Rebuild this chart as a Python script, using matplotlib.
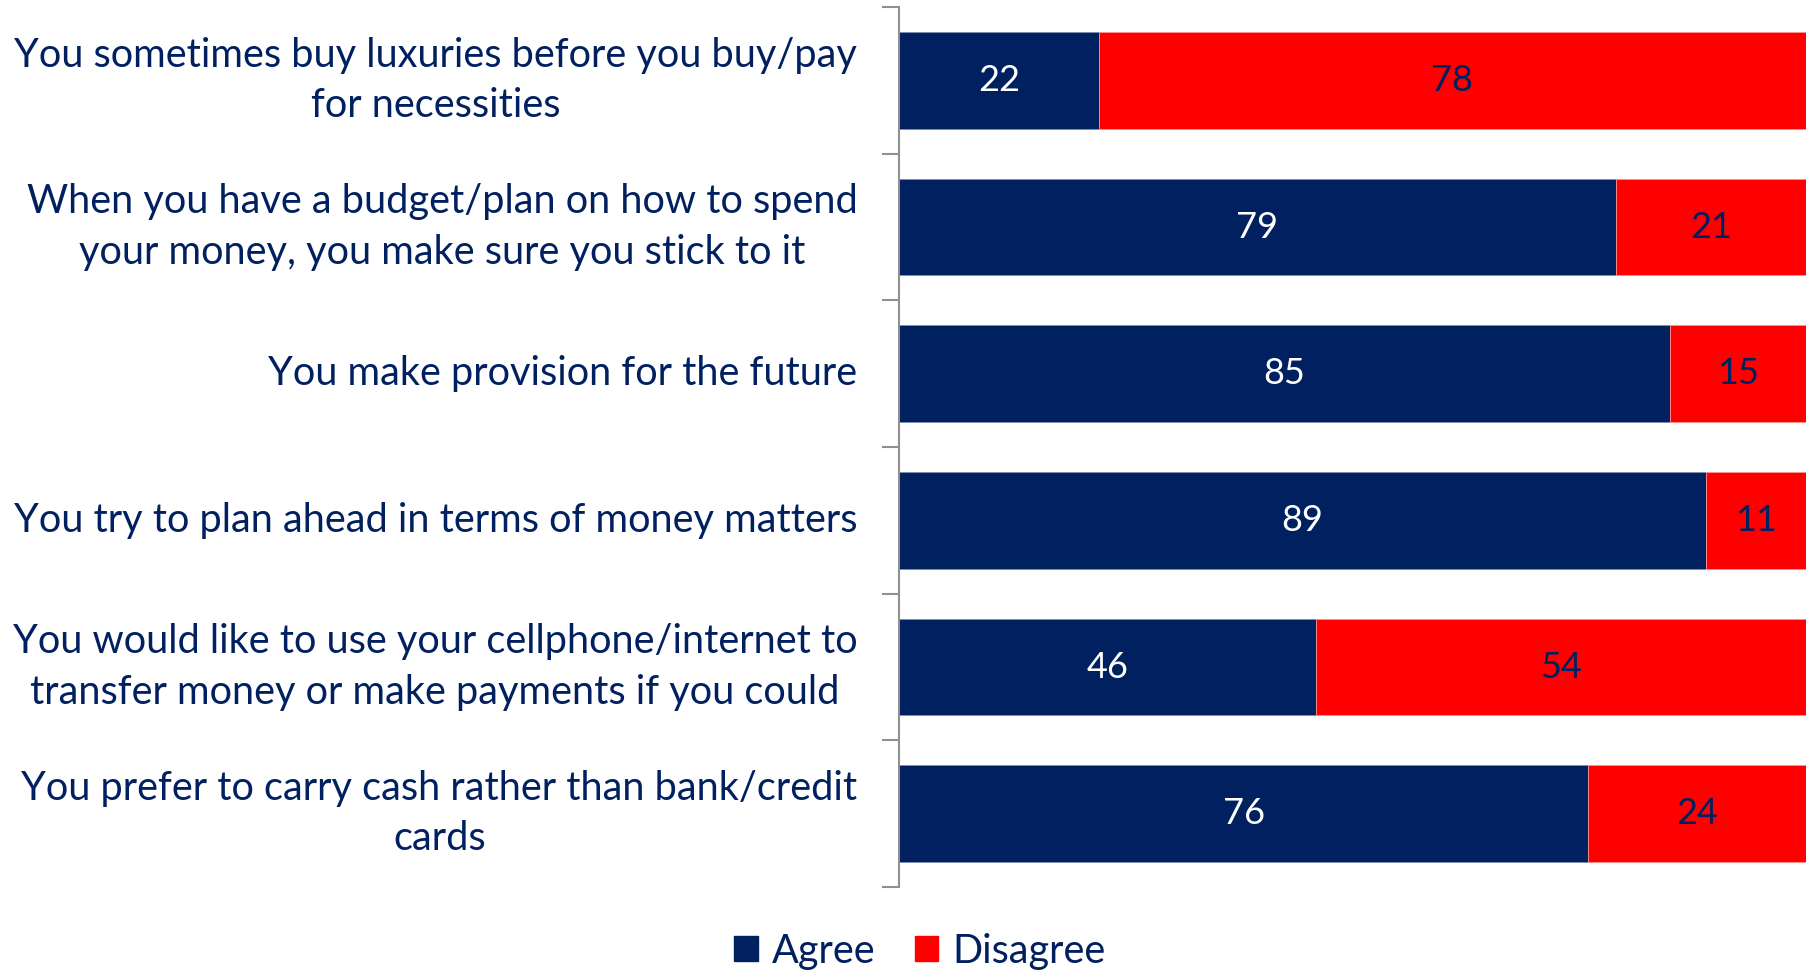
import numpy as np
import matplotlib.pyplot as plt
from matplotlib.patches import Patch

statements = [
    "You sometimes buy luxuries before you buy/pay\nfor necessities",
    "When you have a budget/plan on how to spend\nyour money, you make sure you stick to it",
    "You make provision for the future",
    "You try to plan ahead in terms of money matters",
    "You would like to use your cellphone/internet to\ntransfer money or make payments if you could",
    "You prefer to carry cash rather than bank/credit\ncards",
]
agree = [22, 79, 85, 89, 46, 76]
disagree = [78, 21, 15, 11, 54, 24]

navy = "#002060"
red = "#FF0000"

plt.rcParams['font.family'] = ['Lato', 'DejaVu Sans']

fig = plt.figure(figsize=(18.14, 9.73), dpi=100)
ax = fig.add_axes([899 / 1814, 1 - 887 / 973, 907 / 1814, 880 / 973])

y = np.arange(len(statements))
h = 0.66
ax.barh(y, agree, height=h, color=navy, edgecolor="#8090b0", linewidth=0.6)
ax.barh(y, disagree, left=agree, height=h, color=red, edgecolor="#ff9090", linewidth=0.6)

for i in range(len(y)):
    ax.text(agree[i] / 2, y[i], str(agree[i]), ha="center", va="center",
            color="white", fontsize=26)
    ax.text(agree[i] + disagree[i] / 2, y[i], str(disagree[i]), ha="center",
            va="center", color=navy, fontsize=26)

ax.set_xlim(0, 100)
ax.set_ylim(len(y) - 0.5, -0.5)
ax.set_xticks([])
ax.set_yticks(y)
ax.set_yticklabels(statements, fontsize=28.6, color=navy, ha="right", va="center",
                   multialignment="center", linespacing=1.45)
ax.tick_params(axis="y", which="major", length=0, pad=30)
ax.set_yticks(np.arange(-0.5, len(y)), minor=True)
ax.tick_params(axis="y", which="minor", length=12, width=1.5, color="#909090")
for s in ["top", "right", "bottom"]:
    ax.spines[s].set_visible(False)
ax.spines["left"].set_color("#909090")
ax.spines["left"].set_linewidth(1.5)

handles = [Patch(color=navy, label="Agree"), Patch(color=red, label="Disagree")]
fig.legend(handles=handles, loc="center", bbox_to_anchor=(0.507, 1 - 951 / 973),
           ncol=2, frameon=False, fontsize=28.5, handlelength=0.6, handleheight=0.6,
           handletextpad=0.35, columnspacing=1.0, labelcolor=navy)

fig.savefig("out.png", dpi=100)
